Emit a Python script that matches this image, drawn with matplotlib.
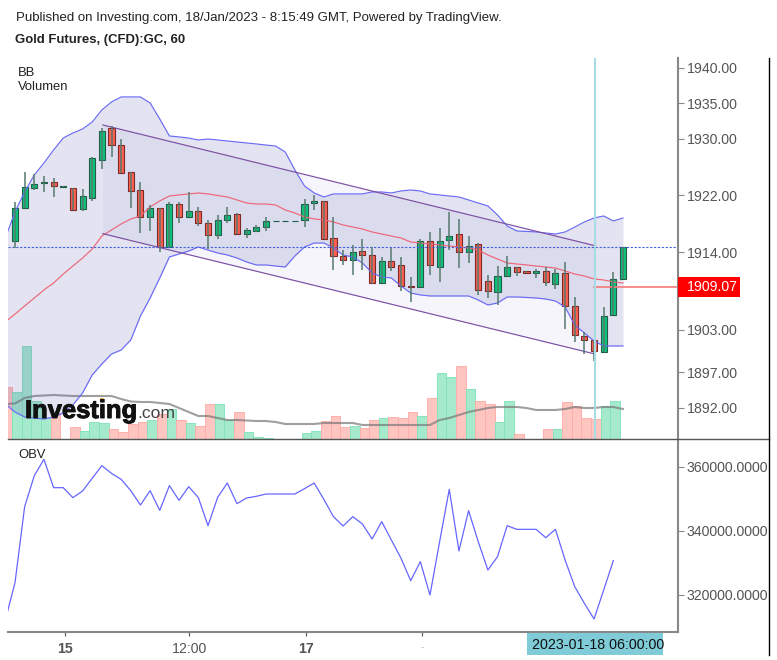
import matplotlib
matplotlib.use('Agg')
import matplotlib.pyplot as plt
import matplotlib.patheffects as pe
from matplotlib.patches import Rectangle, Circle
from matplotlib.transforms import blended_transform_factory
import numpy as np

plt.rcParams['font.family'] = ['Liberation Sans', 'DejaVu Sans']

opens = [1915.57,1920.27,1923.09,1923.72,1923.9,1923.26,1923.01,1920.13,1921.69,1927.01,
         1931.53,1929.17,1925.27,1922.81,1918.92,1920.19,1914.67,1920.75,1918.92,1919.81,
         1918.07,1916.46,1918.58,1919.34,1916.6,1916.98,1917.5,1918.36,1918.36,1918.36,
         1918.53,1920.89,1921.21,1915.95,1913.45,1912.88,1914.15,1913.63,1909.68,1912.78,
         1912.22,1909.25,1909.03,1915.61,1911.93,1915.71,1916.51,1913.97,1915.1,1909.96,
         1908.32,1910.62,1911.85,1911.33,1911.0,1911.37,1909.53,1911.0,1906.38,1902.19,
         1901.63,1899.85,1905.11,1910.24]
highs = [1921.12,1925.35,1924.99,1924.79,1924.46,1923.33,1923.01,1922.91,1927.47,1931.48,
         1931.85,1929.93,1925.27,1923.94,1920.65,1920.19,1921.12,1921.12,1922.53,1920.41,
         1918.53,1919.24,1920.41,1919.52,1917.36,1917.83,1918.91,1918.42,1918.42,1918.42,
         1921.5,1922.06,1921.26,1919.0,1914.29,1915.0,1915.81,1914.67,1913.35,1914.62,
         1913.26,1910.52,1915.81,1916.88,1917.36,1919.62,1918.63,1916.31,1915.24,1910.72,
         1912.08,1913.49,1911.85,1911.33,1911.57,1911.85,1911.57,1912.6,1907.66,1902.76,
         1901.63,1906.29,1911.23,1914.67]
lows = [1914.53,1920.23,1922.77,1922.53,1921.83,1923.26,1919.95,1919.85,1921.26,1925.69,
        1927.47,1925.13,1920.27,1916.74,1916.93,1914.05,1914.67,1918.15,1918.92,1917.73,
        1914.48,1915.85,1918.07,1916.6,1916.03,1916.84,1917.02,1918.36,1918.36,1918.36,
        1917.59,1919.95,1915.89,1911.47,1912.18,1910.72,1911.47,1909.49,1909.59,1911.37,
        1908.55,1907.0,1909.03,1910.72,1909.82,1914.29,1911.79,1912.5,1907.9,1907.56,
        1906.53,1910.62,1910.67,1911.0,1910.38,1909.25,1908.79,1903.14,1901.34,1899.6,
        1898.66,1899.85,1905.11,1910.24]
closes = [1920.19,1923.2,1923.57,1923.9,1923.3,1923.33,1919.95,1921.97,1927.25,1931.14,
          1929.12,1925.21,1922.59,1918.92,1920.19,1914.67,1920.75,1918.92,1919.81,1918.07,
          1916.41,1918.58,1919.28,1916.6,1917.16,1917.5,1918.39,1918.42,1918.42,1918.42,
          1920.75,1921.21,1915.89,1913.45,1912.93,1913.97,1913.59,1909.68,1912.78,1911.93,
          1909.17,1909.03,1915.61,1912.18,1915.61,1916.31,1913.97,1914.86,1908.65,1908.46,
          1910.62,1911.85,1911.15,1911.0,1911.33,1909.73,1911.0,1906.34,1902.29,1901.58,
          1899.99,1904.97,1910.16,1914.67]

# these start one bar before the first candle
bb_upper = [1915.99,1919.67,1922.49,1924.89,1926.58,1928.42,1930.11,1930.82,1931.38,1932.37,
            1934.07,1935.2,1935.91,1935.91,1935.91,1935.06,1932.8,1930.4,1930.26,1930.11,
            1929.83,1929.97,1929.83,1929.69,1929.55,1929.41,1929.27,1929.12,1928.98,1928.14,
            1925.6,1923.34,1922.35,1921.78,1922.21,1922.21,1922.21,1922.21,1922.49,1922.49,
            1922.35,1922.63,1922.77,1922.63,1922.21,1922.07,1921.92,1921.78,1921.36,1920.93,
            1920.51,1919.24,1917.68,1916.98,1916.91,1916.84,1916.69,1916.55,1916.84,1917.54,
            1918.25,1918.81,1919.1,1918.39,1918.81]
bb_lower = [1892.54,1891.41,1890.71,1890.57,1890.42,1890.71,1891.27,1892.4,1894.1,1896.64,
            1898.19,1899.6,1900.17,1901.58,1904.97,1907.51,1910.34,1913.31,1913.73,1914.15,
            1914.72,1914.29,1913.87,1913.59,1913.16,1912.6,1912.18,1912.18,1912.03,1911.89,
            1913.45,1914.72,1915.28,1915.28,1914.58,1913.59,1913.31,1912.46,1911.05,1910.48,
            1910.34,1909.21,1908.22,1907.94,1907.8,1907.8,1907.8,1907.8,1907.8,1907.23,
            1906.53,1906.81,1907.66,1907.66,1907.59,1907.51,1907.37,1907.09,1906.24,1903.7,
            1902.57,1901.44,1900.74,1900.74,1900.74]
bb_mid = [1904.13,1905.25,1906.38,1907.51,1908.65,1909.63,1910.9,1912.03,1913.16,1914.43,
          1916.27,1917.12,1917.97,1918.67,1919.1,1920.37,1921.22,1921.92,1922.07,1922.21,
          1922.35,1922.21,1921.99,1921.78,1921.36,1920.93,1920.79,1920.79,1920.65,1919.95,
          1919.52,1918.96,1918.68,1918.54,1918.25,1917.83,1917.54,1917.26,1916.84,1916.55,
          1916.27,1915.99,1915.42,1915.28,1915.14,1915.0,1914.86,1914.72,1914.58,1914.29,
          1913.59,1913.02,1912.46,1912.32,1912.18,1912.03,1911.89,1911.75,1911.33,1910.9,
          1910.62,1910.2,1910.06,1909.77,1909.63]
volume = [14640,13080,26120,10720,5800,7200,0,3280,2320,4680,
          4400,2720,1880,4200,4760,5240,6920,8320,5240,4400,
          3720,9720,9720,5240,7560,1960,560,200,0,0,
          0,1600,2320,5120,6520,3280,3640,3000,5240,5800,
          6160,5800,7560,6520,11400,18400,17280,20520,13920,10720,
          9720,4760,10720,1320,0,0,2720,2720,10360,9320,
          5800,5520,9320,10720,0]
volume_ma = [9800,9940,11480,12040,12180,12320,12180,12040,12040,12040,
             12040,12040,11200,10500,10360,10360,10080,9800,8680,7560,
             6440,6440,5880,5320,5320,5180,5040,5040,4760,4200,
             4200,4200,4200,4480,4480,4480,4480,3920,3920,3920,
             3920,3920,3920,3920,3920,5320,5880,6720,7560,8120,
             8680,8960,8960,8960,8680,8120,8120,8120,8400,8960,
             8680,8680,8960,8960,8400]
obv = [312092,323760,347510,357198,362302,353447,353447,350323,352406,356386,
       360323,357914,356052,352510,348031,352510,346365,354073,349490,353760,
       350323,341573,350427,354906,348447,350219,350740,351469,351469,351469,
       351469,353135,354906,349802,344385,341468,344385,342093,337406,342827,
       337093,331364,324385,330322,319906,336572,352927,333656,346260,336572,
       327718,331885,341573,340427,340427,340427,337822,340427,330843,322509,
       317301,312404,321467,330634]

channel_x = [9.1, 60.1]
channel_top = [1931.95, 1914.9]
channel_bottom = [1916.6, 1899.6]

price_ticks = [1940, 1935, 1930, 1922, 1914, 1903, 1897, 1892]
obv_ticks = [360000, 340000, 320000]
time_ticks = [5.15, 18.05, 30.15, 42.2, 60.2]
time_labels = ['15', '12:00', '17', '-', '']
last_price = 1914.67
marked_price = 1909.07
cursor_bar = 60.1

W, H = 777, 660
XLIM = (-0.725, 68.7)
GREY = '#555555'

def px_axes(l, t, r, b):
    return fig.add_axes([l / W, 1 - b / H, (r - l) / W, (b - t) / H])

fig = plt.figure(figsize=(W / 100, H / 100), dpi=100, facecolor='white')

# volume sits behind the price pane
ax_vol = px_axes(8, 58, 678, 439)
ax_vol.set_xlim(XLIM)
ax_vol.set_ylim(0, 106680)
ax_vol.axis('off')
vol_x = np.arange(len(volume)) - 1
ups = [False] + [c >= o for o, c in zip(opens, closes)]
ax_vol.bar(vol_x + 0.2, volume, width=1.0,
           color=[(0.12, 0.8, 0.5, 0.4) if u else (1, 0.43, 0.4, 0.4) for u in ups],
           edgecolor=['#86E4BC' if u else '#FFB0AA' for u in ups], linewidth=0.7)
ax_vol.plot(vol_x, volume_ma, color='#777777', lw=1.5, alpha=0.7)

ax = px_axes(8, 58, 678, 439)
ax.patch.set_alpha(0)
ax.set_xlim(XLIM)
ax.set_ylim(1887.6, 1941.41)

bb_x = np.arange(len(bb_mid)) - 1
ax.fill_between(bb_x, bb_lower, bb_upper, color='#5A5AAF', alpha=0.17, lw=0)
ax.fill_between(channel_x, channel_bottom, channel_top, color='#6060C0', alpha=0.06, lw=0)
ax.plot(bb_x, bb_upper, color='#6A6AF5', lw=0.85)
ax.plot(bb_x, bb_lower, color='#6A6AF5', lw=0.85)
ax.plot(bb_x, bb_mid, color='#EE6677', lw=0.85)
ax.plot(channel_x, channel_top, color='#7B4FA3', lw=0.85)
ax.plot(channel_x, channel_bottom, color='#7B4FA3', lw=0.85)
ax.axhline(last_price, color='#4060E0', lw=0.8, ls=(0, (2, 1.5)))
ax.plot([60, XLIM[1]], [marked_price, marked_price], color='#F77A7A', lw=1.2)

x = np.arange(len(closes))
o = np.array(opens)
c = np.array(closes)
up = c >= o
ax.vlines(x, lows, highs, color='#557A6D', lw=1.1)
ax.bar(x[up], (c - o)[up], bottom=o[up], width=0.63, color='#0BC27A',
       edgecolor='#1F5F48', linewidth=0.8)
ax.bar(x[~up], (c - o)[~up], bottom=o[~up], width=0.63, color='#FF5E50',
       edgecolor='#7B2A26', linewidth=0.8)
ax.axvline(cursor_bar, color='#A6DCE4', lw=1.5, zorder=5)

ax.spines[['left', 'top', 'bottom']].set_visible(False)
ax.spines['right'].set_color('#888888')
ax.spines['right'].set_linewidth(1.5)
ax.yaxis.tick_right()
ax.set_yticks(price_ticks, ['%.2f' % v for v in price_ticks])
ax.tick_params(axis='y', length=4.3, width=0.8, color='#888888', pad=2,
               labelsize=10.2, labelcolor=GREY)
ax.set_xticks([])

tr = blended_transform_factory(ax.transAxes, ax.transData)
ax.add_patch(Rectangle((1.0, marked_price - 1.37), 62 / 670, 2.8, transform=tr,
                       facecolor='#FF0000', edgecolor='none', clip_on=False, zorder=6))
ax.text(1.0 + 9 / 670, marked_price, '%.2f' % marked_price, transform=tr, color='white',
        fontsize=10.2, va='center', ha='left', zorder=7)

ax2 = px_axes(8, 440, 678, 632)
ax2.set_xlim(XLIM)
ax2.set_ylim(308344, 368344)
ax2.plot(np.arange(len(obv)) - 1, obv, color='#6666FF', lw=0.9)
ax2.spines[['left', 'top']].set_visible(False)
ax2.spines[['right', 'bottom']].set_color('#888888')
ax2.spines[['right', 'bottom']].set_linewidth(1.5)
ax2.yaxis.tick_right()
ax2.set_yticks(obv_ticks, ['%.4f' % v for v in obv_ticks])
ax2.tick_params(axis='y', length=4.3, width=0.8, color='#888888', pad=2,
                labelsize=10.2, labelcolor=GREY)
ax2.set_xticks(time_ticks, time_labels)
ax2.tick_params(axis='x', length=3, width=0.8, color='#555555', pad=4,
                labelsize=10.2, labelcolor=GREY)
for lab, txt in zip(ax2.get_xticklabels(), time_labels):
    if txt in ('15', '17'):
        lab.set_fontweight('bold')
    if txt == '-':
        lab.set_color('#BBBBBB')
        lab.set_fontsize(7)

# page furniture on a full size overlay, in screen pixels
page = fig.add_axes([0, 0, 1, 1])
page.set_xlim(0, W)
page.set_ylim(H, 0)
page.axis('off')
page.patch.set_alpha(0)

page.plot([8, 769], [439, 439], color='#555555', lw=1)
page.plot([769, 769], [58, 655], color='black', lw=1)
page.add_patch(Rectangle((527, 632.5), 136, 22.5, facecolor='#7FCBD8', edgecolor='none'))
page.text(532, 645, '2023-01-18 06:00:00', fontsize=10.3, color='#111111', va='center', ha='left')

page.text(16, 17.5, 'Published on Investing.com, 18/Jan/2023 - 8:15:49 GMT, Powered by TradingView.',
          fontsize=9.5, color='#222222', va='center')
page.text(15, 40.5, 'Gold Futures, (CFD):GC, 60', fontsize=9.45, fontweight='bold',
          color='#222222', va='center')
page.text(18, 73, 'BB', fontsize=9.4, color='#222222', va='center')
page.text(18, 86.5, 'Volumen', fontsize=9.4, color='#222222', va='center')
page.text(18, 455, 'OBV', fontsize=9.4, color='#222222', va='center')

# logo
page.text(25, 418, 'Investing', fontsize=18.4, fontweight='bold', color='#111111',
          va='baseline', ha='left',
          path_effects=[pe.withStroke(linewidth=0.7, foreground='#111111')])
page.text(137, 418, '.com', fontsize=12.6, color='#444444', va='baseline', ha='left')
page.add_patch(Circle((102, 400), 2.2, facecolor='#F5A623', edgecolor='none'))

fig.savefig('out.png', dpi=100, facecolor='white')
